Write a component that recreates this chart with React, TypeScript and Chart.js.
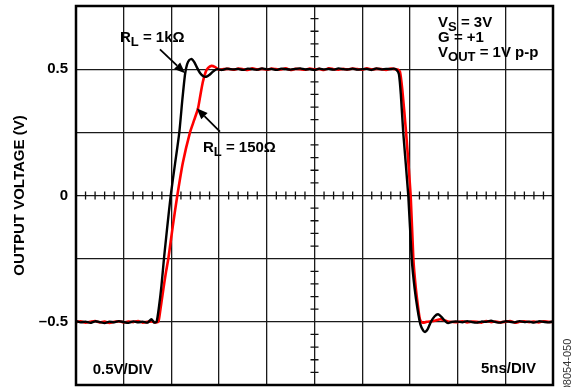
import React, { useEffect, useRef } from 'react';
import { Chart, registerables } from 'chart.js';

Chart.register(...registerables);

// Time axis (ns) and voltage axis (V)
const timeMin = 0;
const timeMax = 50;
const timeStep = 5;
const voltMin = -0.75;
const voltMax = 0.75;
const voltStep = 0.25;
const yLabelValues = [0.5, 0, -0.5];
const yLabelTexts = ['0.5', '0', '–0.5'];

// R_L = 1kΩ (black) trace: [time ns, volts]
const blackTrace: [number, number][] = [
  [0, -0.497], [0.5, -0.502], [1, -0.499], [1.5, -0.504], [2, -0.498], [2.5, -0.501], [3, -0.505], [3.5, -0.499],
  [4, -0.502], [4.5, -0.497], [5, -0.501], [5.5, -0.504], [6, -0.498], [6.5, -0.502], [7, -0.499], [7.5, -0.503],
  [7.9, -0.49], [8.2, -0.503], [8.45, -0.5],
  [8.7, -0.44], [8.95, -0.36], [9.22, -0.25], [9.55, -0.13], [9.93, 0], [10.38, 0.125], [10.83, 0.25],
  [11.15, 0.38], [11.43, 0.48], [11.65, 0.52], [11.9, 0.537], [12.13, 0.54], [12.4, 0.528], [12.7, 0.505],
  [13.0, 0.485], [13.35, 0.472], [13.65, 0.47], [14.0, 0.478], [14.4, 0.492], [14.8, 0.5], [15.3, 0.497], [15.8, 0.502],
  [16.5, 0.499], [17, 0.501], [17.5, 0.497], [18, 0.502], [18.5, 0.5], [19, 0.498], [19.5, 0.503], [20, 0.499],
  [20.5, 0.501], [21, 0.497], [21.5, 0.502], [22, 0.5], [22.5, 0.498], [23, 0.501], [23.5, 0.503], [24, 0.499],
  [24.5, 0.5], [25, 0.497], [25.5, 0.502], [26, 0.499], [26.5, 0.501], [27, 0.498], [27.5, 0.503], [28, 0.5],
  [28.5, 0.499], [29, 0.502], [29.5, 0.498], [30, 0.5], [30.5, 0.501], [31, 0.497], [31.5, 0.503], [32, 0.499],
  [32.5, 0.501], [33, 0.5], [33.3, 0.502], [33.6, 0.497],
  [33.85, 0.48], [34.05, 0.4], [34.3, 0.25], [34.83, 0], [35.19, -0.25], [35.5, -0.37], [35.8, -0.45],
  [36.1, -0.51], [36.4, -0.535], [36.6, -0.54], [36.85, -0.53], [37.2, -0.5], [37.6, -0.478], [37.95, -0.47],
  [38.3, -0.48], [38.7, -0.497], [39.0, -0.505], [39.4, -0.5],
  [40, -0.499], [40.5, -0.502], [41, -0.497], [41.5, -0.501], [42, -0.503], [42.5, -0.499], [43, -0.5],
  [43.5, -0.496], [44, -0.501], [44.5, -0.503], [45, -0.498], [45.5, -0.5], [46, -0.502], [46.5, -0.497],
  [47, -0.501], [47.5, -0.499], [48, -0.503], [48.5, -0.498], [49, -0.5], [49.5, -0.502], [50, -0.499],
];

// R_L = 150Ω (red) trace: [time ns, volts]
const redTrace: [number, number][] = [
  [0, -0.501], [0.5, -0.498], [1, -0.503], [1.5, -0.5], [2, -0.497], [2.5, -0.502], [3, -0.499], [3.5, -0.504],
  [4, -0.5], [4.5, -0.498], [5, -0.502], [5.5, -0.499], [6, -0.501], [6.5, -0.497], [7, -0.503], [7.5, -0.5],
  [8, -0.499], [8.3, -0.502], [8.63, -0.5],
  [8.85, -0.45], [9.12, -0.38], [9.4, -0.31], [9.68, -0.25], [10.15, -0.12], [10.62, 0], [11.2, 0.13],
  [11.95, 0.25], [12.4, 0.3], [12.79, 0.345], [13.05, 0.4], [13.3, 0.45], [13.6, 0.49], [13.85, 0.505],
  [14.2, 0.513], [14.6, 0.508], [15.0, 0.498], [15.5, 0.5],
  [16, 0.501], [16.5, 0.498], [17, 0.502], [17.5, 0.5], [18, 0.497], [18.5, 0.503], [19, 0.499], [19.5, 0.501],
  [20, 0.498], [20.5, 0.502], [21, 0.5], [21.5, 0.499], [22, 0.503], [22.5, 0.497], [23, 0.501], [23.5, 0.5],
  [24, 0.498], [24.5, 0.502], [25, 0.499], [25.5, 0.501], [26, 0.497], [26.5, 0.503], [27, 0.5], [27.5, 0.498],
  [28, 0.501], [28.5, 0.499], [29, 0.502], [29.5, 0.5], [30, 0.498], [30.5, 0.503], [31, 0.499], [31.5, 0.501],
  [32, 0.5], [32.5, 0.497], [33, 0.502], [33.5, 0.5],
  [33.75, 0.498], [33.96, 0.49], [34.2, 0.42], [34.6, 0.25], [35.08, 0], [35.36, -0.25], [35.6, -0.36],
  [35.85, -0.44], [36.05, -0.49], [36.3, -0.503], [36.8, -0.5], [37.5, -0.497], [38.2, -0.49], [38.7, -0.495],
  [39.2, -0.5],
  [40, -0.501], [40.5, -0.498], [41, -0.502], [41.5, -0.499], [42, -0.5], [42.5, -0.503], [43, -0.497],
  [43.5, -0.501], [44, -0.499], [44.5, -0.502], [45, -0.5], [45.5, -0.497], [46, -0.503], [46.5, -0.5],
  [47, -0.498], [47.5, -0.501], [48, -0.499], [48.5, -0.502], [49, -0.498], [49.5, -0.5], [50, -0.501],
];

const FAMILY = '"Liberation Sans", Arial, Helvetica, sans-serif';
const MAIN_FONT = `bold 15px ${FAMILY}`;
const SUB_FONT = `bold 13px ${FAMILY}`;

type Part = [string, boolean];

function drawRich(ctx: CanvasRenderingContext2D, x: number, y: number, parts: Part[]) {
  let cx = x;
  for (const [s, sub] of parts) {
    ctx.font = sub ? SUB_FONT : MAIN_FONT;
    ctx.fillText(s, cx, sub ? y + 4 : y);
    cx += ctx.measureText(s).width;
  }
}

function drawArrow(ctx: CanvasRenderingContext2D, x1: number, y1: number, x2: number, y2: number) {
  const ang = Math.atan2(y2 - y1, x2 - x1);
  const len = 11;
  const hw = 4.5;
  const bx = x2 - len * Math.cos(ang);
  const by = y2 - len * Math.sin(ang);
  ctx.beginPath();
  ctx.moveTo(x1, y1);
  ctx.lineTo(bx, by);
  ctx.lineWidth = 1.8;
  ctx.strokeStyle = '#000';
  ctx.stroke();
  ctx.beginPath();
  ctx.moveTo(x2, y2);
  ctx.lineTo(bx + hw * Math.sin(ang), by - hw * Math.cos(ang));
  ctx.lineTo(bx - hw * Math.sin(ang), by + hw * Math.cos(ang));
  ctx.closePath();
  ctx.fillStyle = '#000';
  ctx.fill();
}

const overlayPlugin = {
  id: 'scopeOverlay',
  beforeDatasetsDraw(chart: any) {
    const { ctx, scales } = chart;
    const xs = scales.x;
    const ys = scales.y;
    ctx.save();
    ctx.strokeStyle = '#111';
    ctx.lineWidth = 1.3;
    const y0 = ys.getPixelForValue(0);
    const xc = xs.getPixelForValue((timeMin + timeMax) / 2);
    ctx.beginPath();
    for (let k = 1; k < 50; k++) {
      if (k % 5 === 0) continue;
      const px = xs.getPixelForValue(timeMin + k * (timeStep / 5));
      ctx.moveTo(px, y0 - 4);
      ctx.lineTo(px, y0 + 4);
    }
    for (let k = -14; k <= 14; k++) {
      if (k % 5 === 0) continue;
      const py = ys.getPixelForValue(k * (voltStep / 5));
      ctx.moveTo(xc - 4, py);
      ctx.lineTo(xc + 4, py);
    }
    ctx.stroke();
    ctx.restore();
  },
  afterDatasetsDraw(chart: any) {
    const { ctx, scales, chartArea } = chart;
    const xs = scales.x;
    const ys = scales.y;
    const X = (t: number) => xs.getPixelForValue(t);
    const Y = (v: number) => ys.getPixelForValue(v);
    ctx.save();
    // frame
    ctx.strokeStyle = '#000';
    ctx.lineWidth = 2.5;
    ctx.strokeRect(chartArea.left, chartArea.top, chartArea.right - chartArea.left, chartArea.bottom - chartArea.top);

    ctx.fillStyle = '#000';
    ctx.textAlign = 'left';
    ctx.textBaseline = 'alphabetic';
    drawRich(ctx, X(4.61), Y(0.6075), [['R', false], ['L', true], [' = 1kΩ', false]]);
    drawRich(ctx, X(13.31), Y(0.1734), [['R', false], ['L', true], [' = 150Ω', false]]);
    drawRich(ctx, X(37.95), Y(0.668), [['V', false], ['S', true], [' = 3V', false]]);
    drawRich(ctx, X(37.95), Y(0.6087), [['G = +1', false]]);
    drawRich(ctx, X(37.95), Y(0.5494), [['V', false], ['OUT', true], [' = 1V p-p', false]]);
    drawRich(ctx, X(1.75), Y(-0.7064), [['0.5V/DIV', false]]);
    ctx.textAlign = 'right';
    ctx.font = MAIN_FONT;
    ctx.fillText('5ns/DIV', X(48.22), Y(-0.701));

    drawArrow(ctx, X(8.8), Y(0.5786), X(11.43), Y(0.4837));
    drawArrow(ctx, X(15.09), Y(0.2525), X(12.65), Y(0.3451));

    // figure id
    ctx.translate(chartArea.right + 15, chartArea.bottom - 20);
    ctx.rotate(-Math.PI / 2);
    ctx.textAlign = 'center';
    ctx.textBaseline = 'middle';
    ctx.font = `11px ${FAMILY}`;
    ctx.fillStyle = '#333';
    ctx.fillText('08054-050', 0, 0);
    ctx.restore();
  },
};

export default function App() {
  const canvasRef = useRef<HTMLCanvasElement | null>(null);

  useEffect(() => {
    const canvas = canvasRef.current;
    if (!canvas) return;
    const chart = new Chart(canvas, {
      type: 'line',
      data: {
        datasets: [
          {
            label: 'RL = 1kΩ',
            data: blackTrace.map(([t, v]) => ({ x: t, y: v })),
            borderColor: '#000000',
            borderWidth: 2.4,
            pointRadius: 0,
            tension: 0.2,
          },
          {
            label: 'RL = 150Ω',
            data: redTrace.map(([t, v]) => ({ x: t, y: v })),
            borderColor: '#ff0000',
            borderWidth: 2.6,
            pointRadius: 0,
            tension: 0.2,
          },
        ],
      },
      options: {
        responsive: false,
        devicePixelRatio: 1,
        animation: false,
        events: [],
        layout: { padding: { left: 0, top: 6, right: 25, bottom: 2 } },
        plugins: { legend: { display: false }, tooltip: { enabled: false } },
        scales: {
          x: {
            type: 'linear',
            min: timeMin,
            max: timeMax,
            ticks: { stepSize: timeStep, display: false },
            grid: { color: '#1a1a1a', lineWidth: 1.3, drawTicks: false },
            border: { display: false },
            afterFit: (s: any) => { s.height = 0; s.paddingLeft = 0; s.paddingRight = 0; },
          },
          y: {
            type: 'linear',
            min: voltMin,
            max: voltMax,
            ticks: {
              stepSize: voltStep,
              padding: 8,
              color: '#000',
              font: { family: FAMILY, size: 15, weight: 'bold' },
              callback: (value: any) => {
                const i = yLabelValues.findIndex((v) => Math.abs(v - Number(value)) < 1e-6);
                return i >= 0 ? yLabelTexts[i] : '';
              },
            },
            grid: { color: '#1a1a1a', lineWidth: 1.3, drawTicks: false },
            border: { display: false },
            title: {
              display: true,
              text: 'OUTPUT VOLTAGE (V)',
              color: '#000',
              font: { family: FAMILY, size: 15, weight: 'bold' },
              padding: { top: 11, bottom: 0 },
            },
            afterFit: (s: any) => { s.width = 76; s.paddingTop = 0; s.paddingBottom = 0; },
          },
        },
      },
      plugins: [overlayPlugin],
    } as any);
    return () => chart.destroy();
  }, []);

  return (
    <div style={{ position: 'fixed', left: 0, top: 0, width: 578, height: 387, background: '#fff' }}>
      <canvas ref={canvasRef} width={578} height={387} style={{ display: 'block' }} />
    </div>
  );
}
